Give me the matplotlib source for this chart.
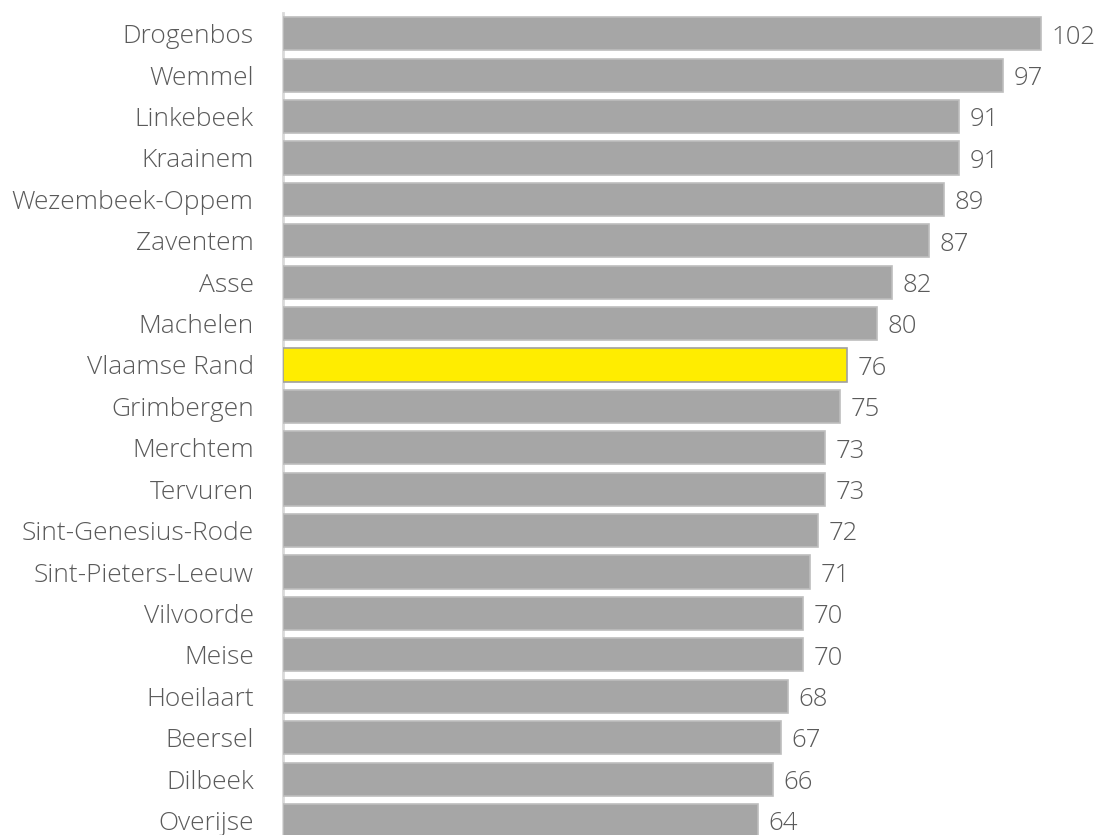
import matplotlib
matplotlib.use("Agg")
import matplotlib.pyplot as plt

# ------------------------------------------------------------------
# Data
# ------------------------------------------------------------------
municipalities = [
    "Drogenbos", "Wemmel", "Linkebeek", "Kraainem", "Wezembeek-Oppem",
    "Zaventem", "Asse", "Machelen", "Vlaamse Rand", "Grimbergen",
    "Merchtem", "Tervuren", "Sint-Genesius-Rode", "Sint-Pieters-Leeuw",
    "Vilvoorde", "Meise", "Hoeilaart", "Beersel", "Dilbeek", "Overijse",
]
values = [102, 97, 91, 91, 89, 87, 82, 80, 76, 75,
          73, 73, 72, 71, 70, 70, 68, 67, 66, 64]
highlight = "Vlaamse Rand"

GREY = "#A6A6A6"
GREY_EDGE = "#BDBDBD"
YELLOW = "#FFED00"
TEXT = "#5A5A5A"

fig = plt.figure(figsize=(11, 8.35), dpi=100)
ax = fig.add_axes([283 / 1100, 0.0, 1 - 283 / 1100, 1 - 13 / 835])

colors = [YELLOW if m == highlight else GREY for m in municipalities]
edges = ["#A0A0A0" if m == highlight else GREY_EDGE for m in municipalities]
ypos = range(len(municipalities))
bars = ax.barh(ypos, values, height=0.8, color=colors, edgecolor=edges,
               linewidth=1.2, zorder=3)

# waarde naast elke balk
for bar, val in zip(bars, values):
    ax.text(bar.get_width() + 1.4, bar.get_y() + bar.get_height() / 2 + 0.08,
            f"{val}", ha="left", va="center", color=TEXT, fontsize=18.5,
            family="Open Sans", fontweight="light")

ax.set_yticks(list(ypos))
ax.set_yticklabels(municipalities, color=TEXT, fontsize=19,
                   family="Open Sans", fontweight="light")
ax.tick_params(axis="y", length=0, pad=21)
ax.set_ylim(19.35, -0.5)
ax.set_xlim(0, 110)
ax.set_xticks([])

for side in ("top", "right", "bottom"):
    ax.spines[side].set_visible(False)
ax.spines["left"].set_color("#D9D9D9")
ax.spines["left"].set_linewidth(2)

fig.savefig("out.png", dpi=100, facecolor="white")
